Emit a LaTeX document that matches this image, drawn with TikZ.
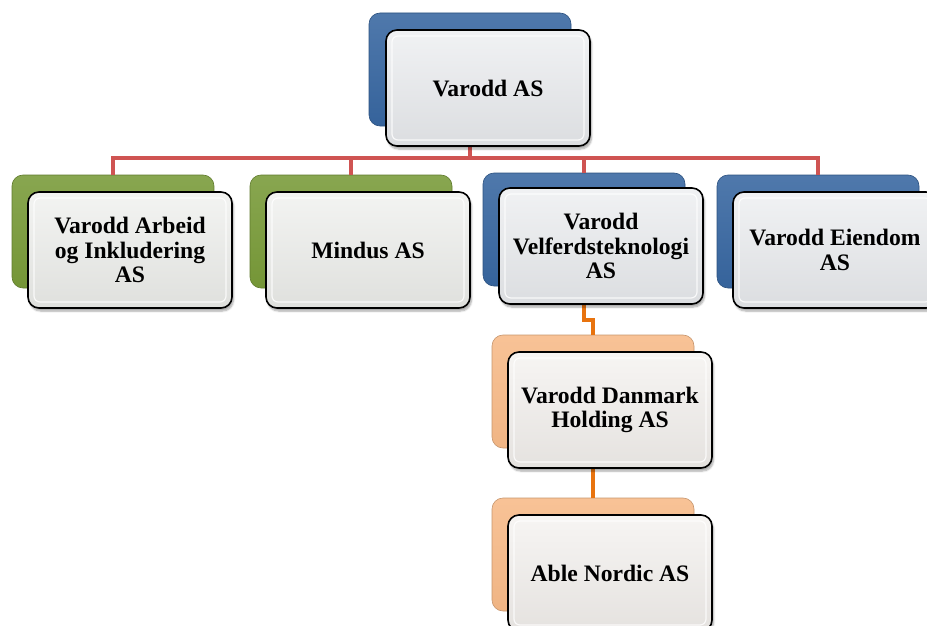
\documentclass[tikz,border=0pt]{standalone}
\usepackage{fontspec}
\setmainfont{Liberation Serif}
\usetikzlibrary{shadows.blur,calc}
\definecolor{bluebox}{HTML}{3766A0}
\definecolor{greenbox}{HTML}{789A38}
\definecolor{orangebox}{HTML}{F7BA88}
\definecolor{redline}{HTML}{CF5452}
\definecolor{orangeline}{HTML}{E8730E}
\definecolor{frblue}{HTML}{E7E9EC}
\definecolor{frgreen}{HTML}{EBECE9}
\definecolor{frorange}{HTML}{F1EEEB}
\tikzset{
  backbox/.style={rounded corners=11pt, minimum width=202pt, minimum height=113pt,
    inner sep=0pt, outer sep=0pt, anchor=north west, draw=#1!80!black, line width=0.6pt,
    top color=#1!88!white, bottom color=#1!97!black},
  frontbox/.style={rounded corners=11pt, minimum width=204pt, minimum height=116pt,
    inner sep=0pt, outer sep=0pt, anchor=north west, draw=black, line width=1.6pt,
    top color=#1!60!white, bottom color=#1!95!black,
    blur shadow={shadow xshift=1.5pt, shadow yshift=-3pt, shadow blur steps=6, shadow opacity=35},
    align=center, font=\fontsize{23.6}{24.5}\selectfont\bfseries},
  bevel/.style={draw=white, line width=1.2pt, rounded corners=6pt, opacity=0.8},
  redconn/.style={draw=redline, line width=4pt, line join=miter},
  orangeconn/.style={draw=orangeline, line width=4pt, line join=miter},
}
\begin{document}
\begin{tikzpicture}[x=1pt,y=-1pt]
\useasboundingbox (0,0) rectangle (927,626);
% back boxes
\node[backbox=bluebox]   (tb) at (369,13)  {};
\node[backbox=greenbox]  (ab) at (12,175)  {};
\node[backbox=greenbox]  (mb) at (250,175) {};
\node[backbox=bluebox]   (vb) at (483,173) {};
\node[backbox=bluebox]   (eb) at (717,175) {};
\node[backbox=orangebox] (db) at (492,335) {};
\node[backbox=orangebox] (nb) at (492,498) {};
% connectors
\coordinate (bar) at (0,158);
\coordinate (jog) at (0,320);
\draw[redconn] (tb.south) -- (tb.south |- bar);
\draw[redconn] (ab.north) -- (ab.north |- bar) -- (eb.north |- bar) -- (eb.north);
\draw[redconn] (mb.north |- bar) -- (mb.north);
\draw[redconn] (vb.north |- bar) -- (vb.north);
\draw[orangeconn] (vb.south) -- (vb.south |- jog) -| (db.north);
\draw[orangeconn] (db.south) -- (nb.north);
% front boxes
\node[frontbox=frblue]   (tf) at (386,30)  {Varodd AS};
\node[frontbox=frgreen]  (af) at (28,192)  {Varodd Arbeid\\og Inkludering\\AS};
\node[frontbox=frgreen]  (mf) at (266,192) {Mindus AS};
\node[frontbox=frblue]   (vf) at (499,188) {Varodd\\Velferdsteknologi\\AS};
\node[frontbox=frblue]   (ef) at (733,192) {Varodd Eiendom\\AS};
\node[frontbox=frorange] (df) at (508,352) {Varodd Danmark\\Holding AS};
\node[frontbox=frorange] (nf) at (508,515) {Able Nordic AS};
\foreach \n in {tf,af,mf,vf,ef,df,nf}
  \draw[bevel] ([shift={(6pt,-6pt)}]\n.north west) rectangle ([shift={(-6pt,6pt)}]\n.south east);
\end{tikzpicture}
\end{document}
